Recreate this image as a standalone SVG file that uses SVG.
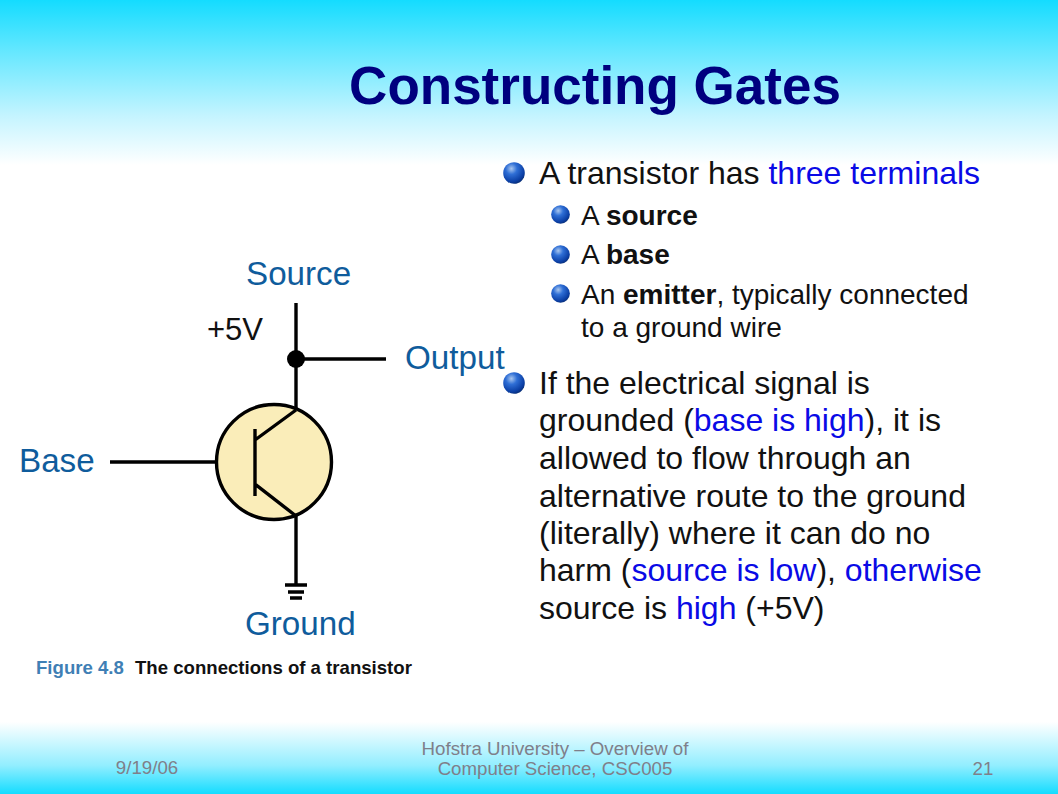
<svg xmlns="http://www.w3.org/2000/svg" width="1058" height="794" viewBox="0 0 1058 794">
<style>
text{font-family:"Liberation Sans",Arial,sans-serif}
.w{stroke:#000;stroke-width:3.4;fill:none}
.lab{font-size:33.2px;fill:#0f5c9c}
.l1{font-size:32px;fill:#111}
.l2{font-size:28px;fill:#111}
.b{fill:#0a0ae6}
.f{font-size:18.700px;fill:#7f7f8a;text-anchor:middle}
</style>
<defs>
<linearGradient id="top" x1="0" y1="0" x2="0" y2="1"><stop offset="0" stop-color="#14dcff"/><stop offset="0.3" stop-color="#62e7ff"/><stop offset="0.7" stop-color="#c4f4ff"/><stop offset="1" stop-color="#fff"/></linearGradient>
<linearGradient id="bot" x1="0" y1="0" x2="0" y2="1"><stop offset="0" stop-color="#fff"/><stop offset="0.6" stop-color="#93eeff"/><stop offset="1" stop-color="#14dcff"/></linearGradient>
<radialGradient id="ball" cx="0.38" cy="0.3" r="0.75"><stop offset="0" stop-color="#a9c6ee"/><stop offset="0.35" stop-color="#2f6fd6"/><stop offset="0.8" stop-color="#0b3fa5"/><stop offset="1" stop-color="#082c70"/></radialGradient>
<symbol id="bullet" viewBox="0 0 22 22" overflow="visible"><circle cx="11" cy="11" r="10.800" fill="url(#ball)"/></symbol>
</defs>
<rect width="1058" height="794" fill="#fff"/>
<rect width="1058" height="165" fill="url(#top)"/>
<rect y="722" width="1058" height="72" fill="url(#bot)"/>
<g id="title"><text x="595" y="104" font-size="53" font-weight="bold" fill="#00007f" text-anchor="middle">Constructing Gates</text></g>
<g id="connectors">
<path class="w" d="M296 303V410M296 359H386M110 462H216M296 516V585"/>
</g>
<g id="transistor"><circle cx="274" cy="462" r="57.500" fill="#faedb9" stroke="#000" stroke-width="3.400"/><path class="w" d="M255 429V496M255 440L296 410M255 484L296 516"/></g>
<g id="junction"><circle cx="296" cy="359" r="9" fill="#000"/></g>
<g id="ground"><path class="w" d="M285 585H307M288 592H304M290 598H302"/></g>
<g id="source"><text class="lab" x="246" y="285">Source</text></g>
<g id="v5"><text x="207" y="340" font-size="31" fill="#111">+5V</text></g>
<g id="output"><text class="lab" x="405" y="369">Output</text></g>
<g id="base"><text class="lab" x="19" y="472">Base</text></g>
<g id="ground-label"><text class="lab" x="245" y="635">Ground</text></g>
<g id="caption"><text x="36" y="674" font-size="18.600" font-weight="bold" fill="#3f7fb5">Figure 4.8</text><text x="135" y="674" font-size="18.600" font-weight="bold" fill="#111">The connections of a transistor</text></g>
<g id="bullets">
<use href="#bullet" x="503" y="162" width="22" height="22"/>
<use href="#bullet" x="551" y="205" width="19" height="19"/>
<use href="#bullet" x="551" y="245" width="19" height="19"/>
<use href="#bullet" x="551" y="284" width="19" height="19"/>
<use href="#bullet" x="503" y="372" width="22" height="22"/>
</g>
<g id="body">
<text class="l1" x="539" y="184">A transistor has <tspan class="b">three terminals</tspan></text>
<text class="l2" x="581" y="225">A <tspan font-weight="bold">source</tspan></text>
<text class="l2" x="581" y="264">A <tspan font-weight="bold">base</tspan></text>
<text class="l2" x="581" y="304">An <tspan font-weight="bold">emitter</tspan>, typically connected</text>
<text class="l2" x="581" y="337">to a ground wire</text>
<text class="l1" x="539" y="394">If the electrical signal is</text>
<text class="l1" x="539" y="431">grounded (<tspan class="b">base is high</tspan>), it is</text>
<text class="l1" x="539" y="469">allowed to flow through an</text>
<text class="l1" x="539" y="507">alternative route to the ground</text>
<text class="l1" x="539" y="544">(literally) where it can do no</text>
<text class="l1" x="539" y="581">harm (<tspan class="b">source is low</tspan>), <tspan class="b">otherwise</tspan></text>
<text class="l1" x="539" y="619">source is <tspan class="b">high</tspan> (+5V)</text>
</g>
<g id="footer">
<text class="f" x="147" y="774">9/19/06</text>
<text class="f" x="555" y="755">Hofstra University – Overview of</text>
<text class="f" x="555" y="775">Computer Science, CSC005</text>
<text class="f" x="983" y="775">21</text>
</g>
</svg>
